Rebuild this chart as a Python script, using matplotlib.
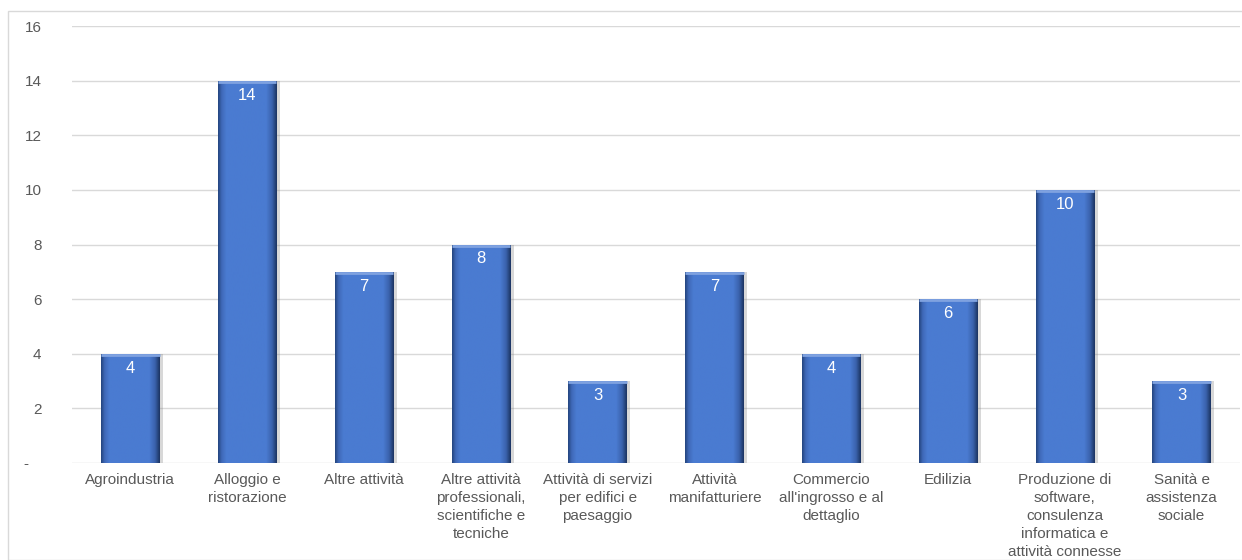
import numpy as np
import matplotlib.pyplot as plt
from matplotlib.patches import Rectangle
from matplotlib.colors import LinearSegmentedColormap

plt.rcParams['font.family'] = ['Liberation Sans', 'DejaVu Sans']

categorie = ["Agroindustria", "Alloggio e\nristorazione", "Altre attività",
             "Altre attività\nprofessionali,\nscientifiche e\ntecniche",
             "Attività di servizi\nper edifici e\npaesaggio", "Attività\nmanifatturiere",
             "Commercio\nall'ingrosso e al\ndettaglio", "Edilizia",
             "Produzione di\nsoftware,\nconsulenza\ninformatica e\nattività connesse",
             "Sanità e\nassistenza\nsociale"]
valori = [4, 14, 7, 8, 3, 7, 4, 6, 10, 3]
yticks = [0, 2, 4, 6, 8, 10, 12, 14, 16]
ylabels = ["-   ", "2", "4", "6", "8", "10", "12", "14", "16"]

fig = plt.figure(figsize=(12.42, 5.6), dpi=100)
fig.patches.append(Rectangle((8/1242, 0), 1.0, 1 - 11/560, transform=fig.transFigure,
                             fill=False, edgecolor='#D9D9D9', lw=1))
ax = fig.add_axes([72/1242, 1 - 463/560, 1168/1242, 437/560])

# sfumatura tipo smusso di Excel
cmap = LinearSegmentedColormap.from_list('bevel', [
    (0.0, '#24457F'), (0.06, '#3F69B8'), (0.14, '#4A7BD1'),
    (0.82, '#4A7BD1'), (0.92, '#3A62AC'), (1.0, '#1C3462')])
grad = np.linspace(0, 1, 200).reshape(1, -1)

x = np.arange(len(categorie))
# ombra
ax.bar(x + 0.03, valori, width=0.5, color='#808080', alpha=0.3, zorder=2)
bars = ax.bar(x, valori, width=0.5, color='none', edgecolor='none', zorder=3)
for b, v in zip(bars, valori):
    x0, w = b.get_x(), b.get_width()
    im = ax.imshow(grad, cmap=cmap, aspect='auto', extent=(x0, x0 + w, 0, v),
                   zorder=3, interpolation='bilinear')
    im.set_clip_path(b)
    # bordo superiore chiaro
    ax.plot([x0, x0 + w], [v - 0.05, v - 0.05], color='#7FA2E0', lw=2, zorder=3.5,
            solid_capstyle='butt')
    ax.annotate(str(v), (x0 + w / 2, v), xytext=(0, -5),
                textcoords='offset points', ha='center', va='top',
                color='white', fontsize=12, zorder=4)

ax.set_xlim(-0.5, len(categorie) - 0.5)
ax.set_ylim(0, 16)
ax.set_yticks(yticks)
ax.set_yticklabels(ylabels)
ax.set_xticks(x)
ax.set_xticklabels(categorie, linespacing=1.38)
ax.tick_params(axis='both', length=0, colors='#595959', labelsize=11)
ax.tick_params(axis='y', pad=22)
ax.tick_params(axis='x', pad=7)
ax.grid(axis='y', color='#D9D9D9', lw=1, zorder=0)
for s in ax.spines.values():
    s.set_visible(False)

fig.savefig('out.png', dpi=100)
